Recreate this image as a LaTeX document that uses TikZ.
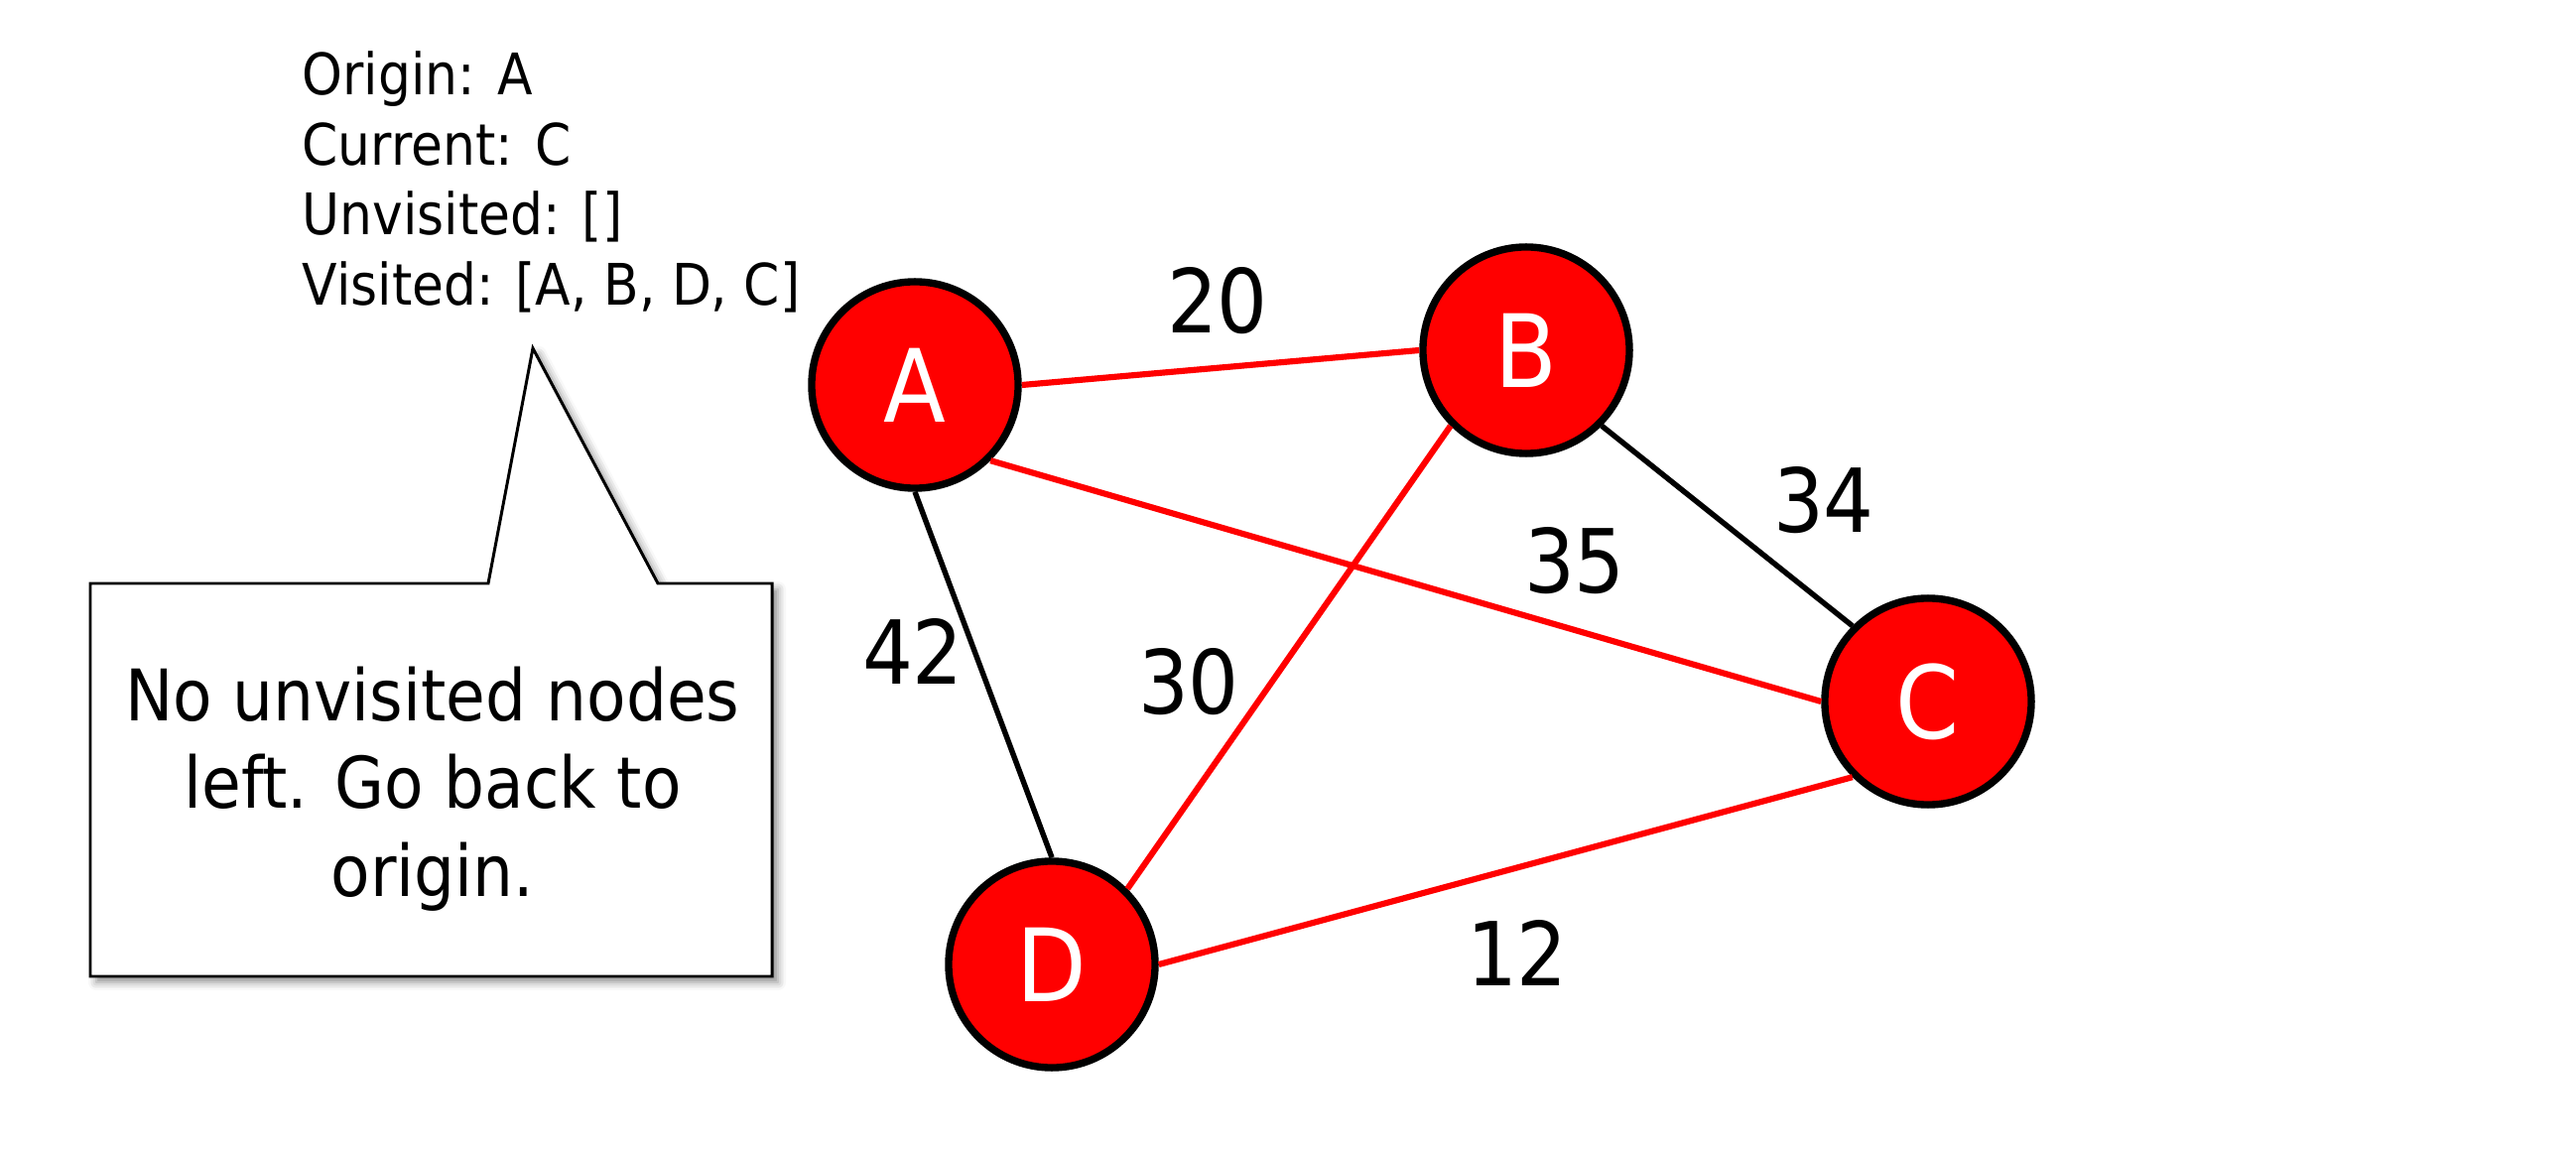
\documentclass[tikz,border=0pt]{standalone}
\usepackage{fontspec}
\setmainfont{DejaVu Sans}[FakeStretch=0.9]
\usepackage{tikz}
\usetikzlibrary{shadows.blur}

\begin{document}
\begin{tikzpicture}[x=0.01cm, y=-0.01cm,
	city/.style={circle, draw=black, line width=2.1pt, fill=red, text=white,
				font=\fontsize{29}{34}\selectfont, minimum size=2.08cm, inner sep=0pt},
	cost/.style={font=\fontsize{25.3}{30}\selectfont, inner sep=0pt},
	tour/.style={draw=red, line width=1.75pt},
	road/.style={draw=black, line width=1.55pt},
]
\useasboundingbox (0,0) rectangle (2596,1158);
% callout
\filldraw [fill=white, line width=0.85pt,
	blur shadow={shadow xshift=0.6mm, shadow yshift=-0.6mm,
				shadow blur radius=0.8mm, shadow opacity=45}]
	(91,588) -- (492,588) -- (537,351) -- (663,588) -- (778,588)
	-- (778,984) -- (91,984) -- cycle;
\node [align=center, font=\fontsize{20.4}{25.2}\selectfont] (msg) at (436,795)
	{No unvisited nodes\\left. Go back to\\origin.};
\node [align=left, anchor=north west, inner sep=0pt,
	font=\fontsize{16.4}{20.06}\selectfont] (state) at (304,51)
	{Origin: A\\Current: C\\Unvisited: []\\Visited: [A, B, D, C]};
% graph
\node [city] (A) at (922,388)  {A};
\node [city] (B) at (1538,353) {B};
\node [city] (C) at (1943,707) {C};
\node [city] (D) at (1060,972) {D};
%
\draw [tour] (A.east) -- (B.west);
\draw [tour] (A.south east) -- (C.west);
\draw [road] (A.south) -- (D.north);
\draw [road] (B.south east) -- (C.north west);
\draw [tour] (B.south west) -- (D.north east);
\draw [tour] (C.south west) -- (D.east);
%
\node [cost] (wAB) at (1227,303) {20};
\node [cost] (wBC) at (1838,504) {34};
\node [cost] (wAC) at (1587,565) {35};
\node [cost] (wAD) at (920,656)  {42};
\node [cost] (wBD) at (1198,687) {30};
\node [cost] (wCD) at (1529,960) {12};
\end{tikzpicture}
\end{document}
